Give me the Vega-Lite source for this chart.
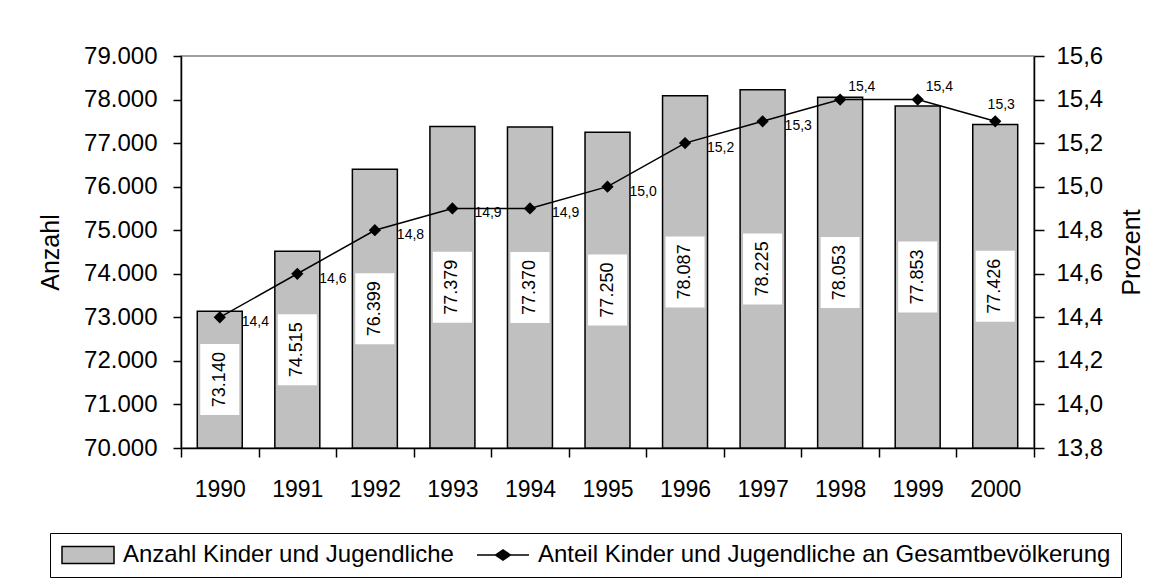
{
  "$schema": "https://vega.github.io/schema/vega-lite/v6.json",
  "width": 853,
  "height": 392,
  "autosize": {"type": "none"},
  "padding": {"left": 181, "top": 56, "right": 129, "bottom": 131},
  "background": "white",
  "config": {
    "locale": {"number": {"decimal": ",", "thousands": ".", "grouping": [3], "currency": ["", " €"]}},
    "font": "Liberation Sans",
    "view": {"stroke": "#808080", "strokeWidth": 1.5},
    "axis": {
      "labelFont": "Liberation Sans", "titleFont": "Liberation Sans",
      "labelColor": "black", "titleColor": "black",
      "domainColor": "black", "tickColor": "black",
      "domainWidth": 1.5, "tickWidth": 1.5, "grid": false,
      "titleFontWeight": "normal", "labelFontSize": 24, "titleFontSize": 25
    },
    "legend": {
      "labelFont": "Liberation Sans", "labelFontSize": 24, "labelColor": "black",
      "labelLimit": 1000, "labelOffset": 23, "columnPadding": 20, "padding": 10,
      "strokeColor": "black", "fillColor": "white", "direction": "horizontal",
      "symbolSize": 400, "symbolOffset": 16, "symbolStrokeColor": "black", "symbolStrokeWidth": 1.5,
      "symbolOpacity": 1
    }
  },
  "data": {
    "values": [
      {"Jahr": "1990", "Anzahl": 73140, "Anteil": 14.4},
      {"Jahr": "1991", "Anzahl": 74515, "Anteil": 14.6},
      {"Jahr": "1992", "Anzahl": 76399, "Anteil": 14.8},
      {"Jahr": "1993", "Anzahl": 77379, "Anteil": 14.9},
      {"Jahr": "1994", "Anzahl": 77370, "Anteil": 14.9},
      {"Jahr": "1995", "Anzahl": 77250, "Anteil": 15.0},
      {"Jahr": "1996", "Anzahl": 78087, "Anteil": 15.2},
      {"Jahr": "1997", "Anzahl": 78225, "Anteil": 15.3},
      {"Jahr": "1998", "Anzahl": 78053, "Anteil": 15.4},
      {"Jahr": "1999", "Anzahl": 77853, "Anteil": 15.4},
      {"Jahr": "2000", "Anzahl": 77426, "Anteil": 15.3}
    ]
  },
  "encoding": {
    "x": {
      "field": "Jahr", "type": "ordinal",
      "scale": {"paddingInner": 0, "paddingOuter": 0},
      "axis": {
        "title": null, "tickBand": "extent", "tickSize": 9, "labelPadding": 21,
        "labelAngle": 0, "labelFontSize": 23,
        "encode": {"ticks": {"update": {"y": {"value": -8}}}}
      }
    }
  },
  "layer": [
    {
      "mark": {"type": "bar", "fill": "#c0c0c0", "stroke": "black", "strokeWidth": 1.5, "width": {"band": 0.58}},
      "encoding": {
        "y": {
          "field": "Anzahl", "type": "quantitative",
          "scale": {"domain": [70000, 79000], "zero": false, "nice": false},
          "axis": {
            "orient": "left", "title": "Anzahl",
            "values": [70000, 71000, 72000, 73000, 74000, 75000, 76000, 77000, 78000, 79000],
            "format": ",.0f", "tickSize": 8, "labelPadding": 16, "titlePadding": 20,
            "encode": {"ticks": {"update": {"x": {"value": 8}}}}
          }
        },
        "y2": {"datum": 70000}
      }
    },
    {
      "encoding": {
        "y": {
          "field": "Anzahl", "type": "quantitative",
          "scale": {"domain": [70000, 88000], "zero": false, "nice": false},
          "axis": null
        }
      },
      "layer": [
        {
          "mark": {"type": "point", "shape": "M-0.275,-0.5H0.275V0.5H-0.275Z", "size": 20164, "filled": true, "fill": "white", "strokeWidth": 0, "opacity": 1}
        },
        {
          "mark": {"type": "text", "angle": 270, "fontSize": 18, "color": "black", "align": "center", "baseline": "middle", "font": "Liberation Sans"},
          "encoding": {"text": {"field": "Anzahl", "type": "quantitative", "format": ",.0f"}}
        }
      ]
    },
    {
      "encoding": {
        "y": {
          "field": "Anteil", "type": "quantitative",
          "scale": {"domain": [13.8, 15.6], "zero": false, "nice": false},
          "axis": {
            "orient": "right", "title": "Prozent",
            "values": [13.8, 14.0, 14.2, 14.4, 14.6, 14.8, 15.0, 15.2, 15.4, 15.6],
            "format": ".1f", "tickSize": 10, "labelPadding": 12,
            "titleAngle": 270, "titleBaseline": "top", "titlePadding": 17,
            "encode": {"ticks": {"update": {"x": {"value": -8}}}}
          }
        }
      },
      "layer": [
        {"mark": {"type": "line", "color": "black", "strokeWidth": 1.5}},
        {"mark": {"type": "point", "shape": "diamond", "size": 150, "filled": true, "color": "black", "opacity": 1}},
        {
          "transform": [{"filter": {"field": "Jahr", "oneOf": ["1990", "1991", "1992", "1993", "1994", "1995", "1996", "1997"]}}],
          "mark": {"type": "text", "align": "left", "baseline": "middle", "dx": 22, "dy": 5, "fontSize": 14, "color": "black", "font": "Liberation Sans"},
          "encoding": {"text": {"field": "Anteil", "type": "quantitative", "format": ".1f"}}
        },
        {
          "transform": [{"filter": {"field": "Jahr", "oneOf": ["1998", "1999"]}}],
          "mark": {"type": "text", "align": "left", "baseline": "middle", "dx": 8, "dy": -13, "fontSize": 14, "color": "black", "font": "Liberation Sans"},
          "encoding": {"text": {"field": "Anteil", "type": "quantitative", "format": ".1f"}}
        },
        {
          "transform": [{"filter": {"field": "Jahr", "equal": "2000"}}],
          "mark": {"type": "text", "align": "center", "baseline": "middle", "dx": 6, "dy": -16, "fontSize": 14, "color": "black", "font": "Liberation Sans"},
          "encoding": {"text": {"field": "Anteil", "type": "quantitative", "format": ".1f"}}
        }
      ]
    },
    {
      "mark": {"type": "point", "opacity": 0, "filled": true},
      "encoding": {
        "color": {
          "datum": "Anzahl Kinder und Jugendliche", "type": "nominal",
          "scale": {"domain": ["Anzahl Kinder und Jugendliche", "Anteil Kinder und Jugendliche an Gesamtbevölkerung"], "range": ["#c0c0c0", "black"]},
          "legend": {
            "title": null, "orient": "none", "legendX": -131, "legendY": 477, "direction": "horizontal",
            "encode": {"symbols": {"update": {"stroke": {"value": "black"}, "strokeWidth": {"value": 1.5}, "opacity": {"value": 1}}}}
          }
        },
        "shape": {
          "datum": "Anzahl Kinder und Jugendliche", "type": "nominal",
          "scale": {"domain": ["Anzahl Kinder und Jugendliche", "Anteil Kinder und Jugendliche an Gesamtbevölkerung"], "range": ["M-2.6,-0.85H2.6V0.85H-2.6Z", "M-2.6,0H2.6M-0.75,0L0,-0.5L0.75,0L0,0.5Z"]},
          "legend": {
            "title": null, "orient": "none", "legendX": -131, "legendY": 477, "direction": "horizontal",
            "encode": {"symbols": {"update": {"stroke": {"value": "black"}, "strokeWidth": {"value": 1.5}, "opacity": {"value": 1}}}}
          }
        }
      }
    }
  ],
  "resolve": {"scale": {"y": "independent"}}
}
